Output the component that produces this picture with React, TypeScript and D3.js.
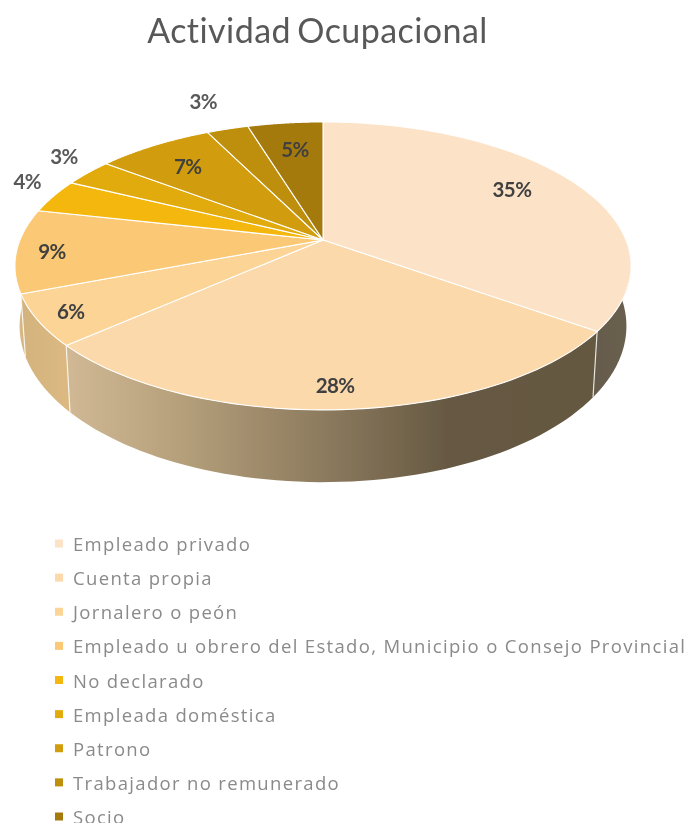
import React from "react";
import * as d3 from "d3";

const title = "Actividad Ocupacional";
const categories = [
  "Empleado privado",
  "Cuenta propia",
  "Jornalero o peón",
  "Empleado u obrero del Estado, Municipio o Consejo Provincial",
  "No declarado",
  "Empleada doméstica",
  "Patrono",
  "Trabajador no remunerado",
  "Socio",
];
const values = [35.0, 28.4, 5.7, 9.4, 3.8, 3.1, 7.3, 2.6, 4.7];
const labels = ["35%", "28%", "6%", "9%", "4%", "3%", "7%", "3%", "5%"];
const colors = ["#fce3c7", "#fbd9ab", "#fcd596", "#fbc974", "#f4b710", "#e2ab0a", "#d19c08", "#bd8f08", "#a57a10"];
const labelRadial = [0.774, 0.878, 0.894, 0.885, 1.152, 1.173, 0.767, 1.308, 0.748];
const labelShiftDeg = [-3.4, 0.7, 0, -0.8, 4, 3.3, -0.6, 0, 0.4];
const labelFill = ["#404040", "#404040", "#404040", "#404040", "#595959", "#595959", "#404040", "#595959", "#404040"];

const W = 688, H = 823;
const cx = 323, cy = 240, Rx = 303, Ry = 139.3, k = 0.18;
const botCx = 323, botRx = Rx * 0.985, botCy = 298, botRy = 151;

const top = (a: number, r = 1): [number, number] => {
  const X = r * Math.sin(a), Y = -r * Math.cos(a), d = 1 - k * Y;
  return [cx + (Rx * X) / d, cy + (Ry * Y) / d];
};
const bot = (a: number): [number, number] => {
  const X = Math.sin(a), Y = -Math.cos(a), d = 1 - k * Y;
  return [botCx + (botRx * X) / d, botCy + (botRy * Y) / d];
};
const line = d3.line();
const arcs = d3.pie<number>().sort(null)(values);
const sample = (a0: number, a1: number) => d3.range(0, 61).map((i) => a0 + ((a1 - a0) * i) / 60);

const legendY = d3.scalePoint<string>().domain(categories).range([543.5, 816.5]);

export default function App() {
  const clampA = (a: number) => Math.max(Math.PI * 0.5, Math.min(Math.PI * 1.5, a));
  return (
    <svg width={W} height={H} style={{ position: "absolute", left: 0, top: 0, background: "#fff" }} fontFamily="Lato, 'Open Sans', sans-serif">
      <defs>
        <filter id="soft" x="-5%" y="-5%" width="110%" height="110%">
          <feGaussianBlur stdDeviation="0.75" />
        </filter>
        <linearGradient id="w0" gradientUnits="userSpaceOnUse" x1="560" x2="640" y1="0" y2="0">
          <stop offset="0" stopColor="#65594a" />
          <stop offset="1" stopColor="#686050" />
        </linearGradient>
        <linearGradient id="w1" gradientUnits="userSpaceOnUse" x1="65" x2="596" y1="0" y2="0">
          <stop offset="0" stopColor="#d0b994" />
          <stop offset="0.2" stopColor="#b8a27d" />
          <stop offset="0.47" stopColor="#8f7d60" />
          <stop offset="0.72" stopColor="#665943" />
          <stop offset="1" stopColor="#655840" />
        </linearGradient>
        <linearGradient id="w2" gradientUnits="userSpaceOnUse" x1="15" x2="70" y1="0" y2="0">
          <stop offset="0" stopColor="#d2b27d" />
          <stop offset="1" stopColor="#dcb981" />
        </linearGradient>
        <linearGradient id="w3" gradientUnits="userSpaceOnUse" x1="15" x2="30" y1="0" y2="0">
          <stop offset="0" stopColor="#d9bd8c" />
          <stop offset="1" stopColor="#d2b27d" />
        </linearGradient>
      </defs>
      <g filter="url(#soft)">
        <text x={317.5} y={43} textAnchor="middle" fontSize={34} fill="#595959" letterSpacing={0.45} wordSpacing={-3}>{title}</text>
        {arcs.map((s, i) => {
          const a0 = clampA(s.startAngle), a1 = clampA(s.endAngle);
          if (a1 <= a0) return null;
          const pts = [...sample(a0, a1).map((a) => top(a)), ...sample(a1, a0).map((a) => bot(a))];
          return <path key={i} d={line(pts) + "Z"} fill={`url(#w${i})`} />;
        })}
        {arcs.slice(0, 3).map((s, i) => {
          const a = s.endAngle;
          return <path key={i} d={line([top(a), bot(a)])!} stroke="#fff" strokeOpacity={0.8} strokeWidth={1.2} fill="none" />;
        })}
        {arcs.map((s, i) => {
          const pts: [number, number][] = [[cx, cy], ...sample(s.startAngle, s.endAngle).map((a) => top(a))];
          return <path key={i} d={line(pts) + "Z"} fill={colors[i]} stroke="#fff" strokeWidth={1.1} strokeLinejoin="round" />;
        })}
        {arcs.map((s, i) => {
          const mid = (s.startAngle + s.endAngle) / 2 + (labelShiftDeg[i] * Math.PI) / 180;
          const [x, y] = top(mid, labelRadial[i]);
          return (
            <text key={i} x={x} y={y} textAnchor="middle" dominantBaseline="central" fontSize={20.5} fontWeight={700} fill={labelFill[i]} letterSpacing={-0.6}>{labels[i]}</text>
          );
        })}
        {categories.map((c, i) => {
          const y = legendY(c)!;
          return (
            <g key={c}>
              <rect x={55} y={y - 4} width={8} height={8} fill={colors[i]} />
              <text x={73} y={y} dominantBaseline="central" fontFamily="'Open Sans', sans-serif" fontSize={18.5} fill="#8a8a8a" letterSpacing={1.33}>{c}</text>
            </g>
          );
        })}
      </g>
    </svg>
  );
}
